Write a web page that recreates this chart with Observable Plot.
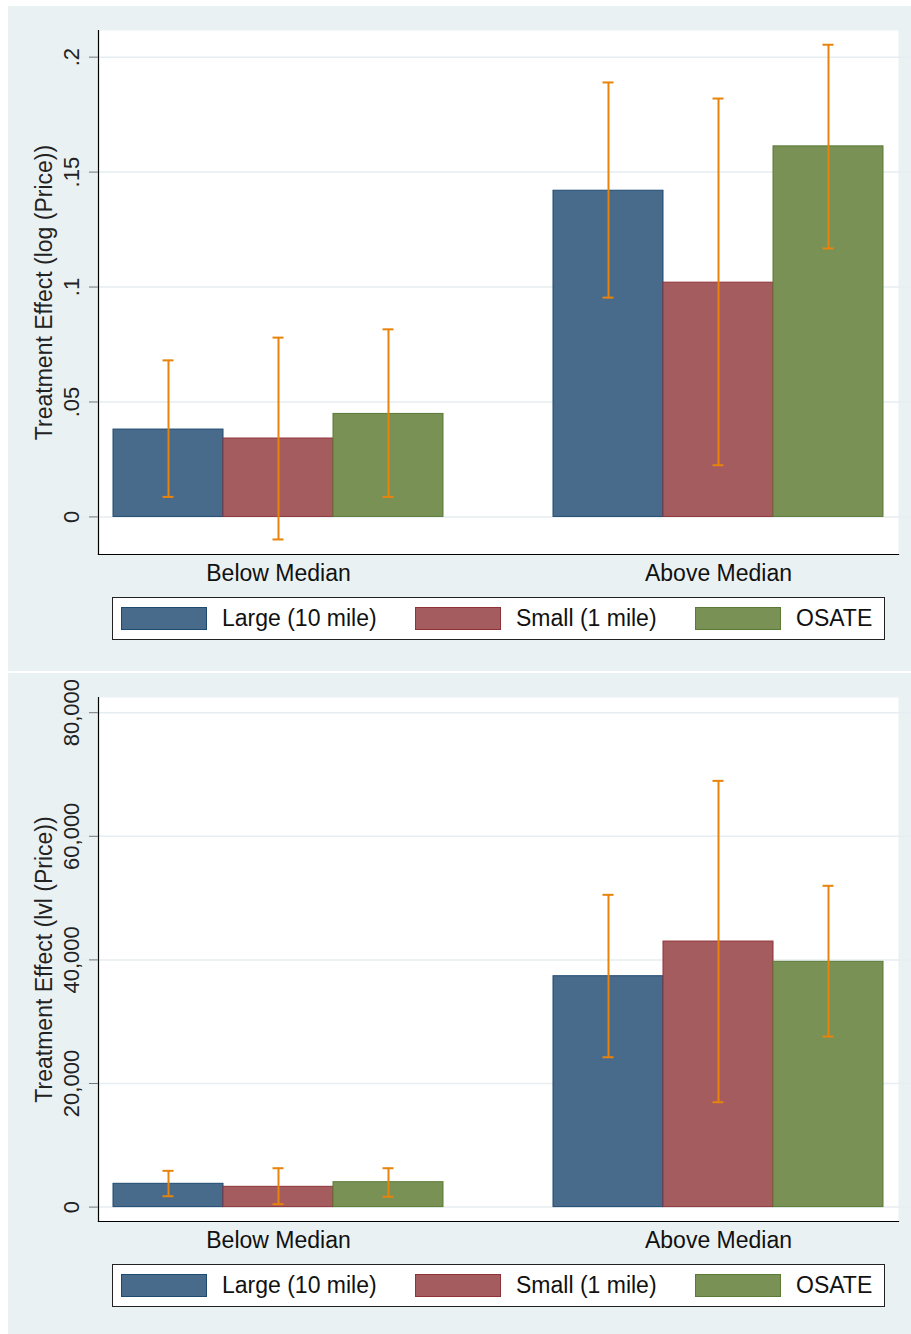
<!DOCTYPE html>
<html>
<head>
<meta charset="utf-8">
<script src="https://cdn.jsdelivr.net/npm/d3@7"></script>
<script src="https://cdn.jsdelivr.net/npm/@observablehq/plot@0.6"></script>
<style>
  body { margin: 0; background: #fff; font-family: "Liberation Sans", Arial, sans-serif; }
  #wrap { position: relative; width: 911px; height: 1334px; overflow: hidden; }
  .panel { position: absolute; left: 8px; width: 903px; height: 665px; background: #eaf1f3; }
  .panel svg { position: absolute; left: 0; top: 0; }
  .legend { position: absolute; left: 104px; top: 591px; width: 773px; height: 43px; box-sizing: border-box;
            border: 1px solid #222; background: #fff; }
  .item { position: absolute; top: 9px; height: 23px; display: flex; align-items: center; font-size: 23px; color: #111; white-space: nowrap; }
  .sw { width: 86px; height: 23px; box-sizing: border-box; border: 1.5px solid; margin-right: 15px; flex: none; }
</style>
</head>
<body>
<div id="wrap"></div>
<script>
// ---- data ----
const groups = ["Below Median", "Above Median"];
const series = ["Large (10 mile)", "Small (1 mile)", "OSATE"];

// log(Price) panel, order: group-major, series-minor
const logEst  = [0.0380, 0.0341, 0.0448, 0.1419, 0.1019, 0.1612];
const logLow  = [0.0087, -0.0098, 0.0087, 0.0954, 0.0225, 0.1168];
const logHigh = [0.0681, 0.0780, 0.0816, 0.1890, 0.1820, 0.2054];
const logDomain = [-0.01635, 0.2116];
const logTicks = [0, 0.05, 0.1, 0.15, 0.2];
const logTickLabels = ["0", ".05", ".1", ".15", ".2"];
const logLabel = "Treatment Effect (log (Price))";

// lvl(Price) panel
const lvlEst  = [3770, 3280, 4030, 37360, 42970, 39690];
const lvlLow  = [1760, 470, 1670, 24250, 16970, 27600];
const lvlHigh = [5870, 6290, 6290, 50530, 68970, 51990];
const lvlDomain = [-2330, 82460];
const lvlTicks = [0, 20000, 40000, 60000, 80000];
const lvlTickLabels = ["0", "20,000", "40,000", "60,000", "80,000"];
const lvlLabel = "Treatment Effect (lvl (Price))";

// ---- styles ----
const fills   = ["#486b8c", "#a55c5f", "#7a9156"];
const strokes = ["#1f4a70", "#8f3339", "#5a7a35"];
const errColor = "#e8830b";
const font = "Liberation Sans, Arial, sans-serif";

function chart(est, low, high, domain, ticks, tickLabels, ylabel) {
  const rows = est.map((v, i) => ({
    group: groups[Math.floor(i / series.length)],
    series: series[i % series.length],
    value: v, lo: low[i], hi: high[i]
  }));
  const barMarks = series.map((s, k) =>
    Plot.barY(rows.filter(d => d.series === s), {
      fx: "group", x: "series", y: "value",
      fill: fills[k], stroke: strokes[k], strokeWidth: 1
    })
  );
  return Plot.plot({
    width: 903, height: 590,
    marginLeft: 90, marginRight: 13, marginTop: 24, marginBottom: 42,
    style: { background: "transparent", fontFamily: font, overflow: "visible" },
    fx: { domain: groups, paddingInner: 80 / 440, paddingOuter: 0, label: null },
    x: { domain: series, padding: 0, insetLeft: 15, insetRight: 15, axis: null },
    y: { domain, label: null },
    marks: [
      Plot.frame({ fill: "white", stroke: null, facet: "super" }),
      Plot.ruleY(ticks, { stroke: "#e6eef1", strokeWidth: 1.5, insetLeft: -40, insetRight: -40 }),
      ...barMarks,
      Plot.ruleX(rows, { fx: "group", x: "series", y1: "lo", y2: "hi", stroke: errColor, strokeWidth: 2 }),
      Plot.tickY(rows, { fx: "group", x: "series", y: "lo", stroke: errColor, strokeWidth: 2, insetLeft: 49.5, insetRight: 49.5 }),
      Plot.tickY(rows, { fx: "group", x: "series", y: "hi", stroke: errColor, strokeWidth: 2, insetLeft: 49.5, insetRight: 49.5 }),
      Plot.frame({ anchor: "bottom", stroke: "#000", strokeWidth: 1.2, facet: "super" }),
      Plot.frame({ anchor: "left", stroke: "#000", strokeWidth: 1.2, facet: "super" }),
      Plot.axisY({
        ticks, tickFormat: d => tickLabels[ticks.indexOf(d)],
        tickRotate: -90, textAnchor: "middle", tickSize: 9, tickPadding: 11,
        fontSize: 22, color: "#222", stroke: "#777", label: null
      }),
      Plot.axisY([], {
        tickSize: 0, fontSize: 23, color: "#222",
        label: ylabel, labelAnchor: "center", labelOffset: 63, labelArrow: "none"
      }),
      Plot.axisFx({ anchor: "bottom", tickSize: 0, tickPadding: 10, fontSize: 23, color: "#111", label: null })
    ]
  });
}

function legend() {
  const lg = document.createElement("div");
  lg.className = "legend";
  const lefts = [8, 302, 582];
  series.forEach((s, k) => {
    const it = document.createElement("div");
    it.className = "item";
    it.style.left = lefts[k] + "px";
    const sw = document.createElement("div");
    sw.className = "sw";
    sw.style.background = fills[k];
    sw.style.borderColor = strokes[k];
    const tx = document.createElement("span");
    tx.textContent = s;
    it.appendChild(sw); it.appendChild(tx);
    lg.appendChild(it);
  });
  return lg;
}

const wrap = document.getElementById("wrap");
[[6, chart(logEst, logLow, logHigh, logDomain, logTicks, logTickLabels, logLabel)],
 [673, chart(lvlEst, lvlLow, lvlHigh, lvlDomain, lvlTicks, lvlTickLabels, lvlLabel)]].forEach(([top, svg]) => {
  const p = document.createElement("div");
  p.className = "panel";
  p.style.top = top + "px";
  p.appendChild(svg);
  p.appendChild(legend());
  wrap.appendChild(p);
});
</script>
</body>
</html>
